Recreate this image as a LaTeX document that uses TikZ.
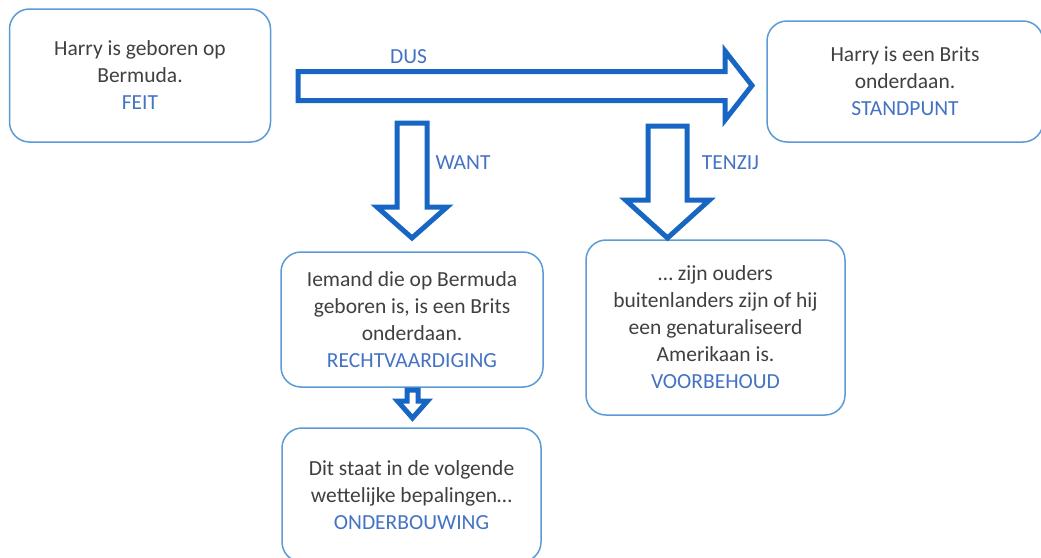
\documentclass[tikz,border=0pt]{standalone}
\usepackage{fontspec}
\setmainfont{Carlito}
\definecolor{randblauw}{RGB}{91,155,213}
\definecolor{labelblauw}{RGB}{68,114,196}
\definecolor{tekstgrijs}{RGB}{64,64,64}
\definecolor{pijlblauw}{RGB}{24,102,196}

% block arrow pointing down: x, top, shoulder, tip, half shaft, half head
\newcommand{\pijlomlaag}[6]{%
  \draw[blokpijl] (#1-#5,#2) -- (#1+#5,#2) -- (#1+#5,#3) -- (#1+#6,#3)
    -- (#1,#4) -- (#1-#6,#3) -- (#1-#5,#3) -- cycle;}

\begin{document}
\begin{tikzpicture}[
    x=1pt, y=-1pt,
    vak/.style={draw=randblauw, line width=1.5pt, rounded corners=20pt, fill=white,
                align=center, text=tekstgrijs, font=\fontsize{21.5}{27}\selectfont},
    blokpijl/.style={draw=pijlblauw, line width=5pt, fill=white, line join=miter},
    etiket/.style={text=labelblauw, font=\fontsize{21.5}{27}\selectfont, inner sep=0pt},
]
\useasboundingbox (0,0) rectangle (1041,557);

% Boxes
\node[vak, minimum width=261, minimum height=133] (feit) at (140,75.5)
    {Harry is geboren op\\ Bermuda.\\ \textcolor{labelblauw}{FEIT}};
\node[vak, minimum width=276, minimum height=121] (standpunt) at (905,81.5)
    {Harry is een Brits\\ onderdaan.\\ \textcolor{labelblauw}{STANDPUNT}};
\node[vak, minimum width=262, minimum height=135] (rechtv) at (412,319.5)
    {Iemand die op Bermuda\\ geboren is, is een Brits\\ onderdaan.\\ \textcolor{labelblauw}{RECHTVAARDIGING}};
\node[vak, minimum width=259, minimum height=175] (voorbeh) at (715.5,327.5)
    {\dots\ zijn ouders\\ buitenlanders zijn of hij\\ een genaturaliseerd\\ Amerikaan is.\\ \textcolor{labelblauw}{VOORBEHOUD}};
\node[vak, minimum width=259, minimum height=134] (onderb) at (411.5,495)
    {Dit staat in de volgende\\ wettelijke bepalingen\dots\\ \textcolor{labelblauw}{ONDERBOUWING}};

% DUS arrow from feit to standpunt
\draw[blokpijl] (298,71.5) -- (725,71.5) -- (725,51) -- (752,85.5) -- (725,120)
    -- (725,100.5) -- (298,100.5) -- cycle;

% WANT, TENZIJ and the small arrow
\pijlomlaag{412}{123}{207}{238}{15}{35}
\pijlomlaag{667.5}{126}{200}{238}{19.5}{42}
\pijlomlaag{412.5}{390}{401}{418}{5.5}{15}

% Labels
\node[etiket] (dus) at (408.5,57) {DUS};
\node[etiket] (want) at (463,163) {WANT};
\node[etiket] (tenzij) at (730.5,163) {TENZIJ};

\end{tikzpicture}
\end{document}
